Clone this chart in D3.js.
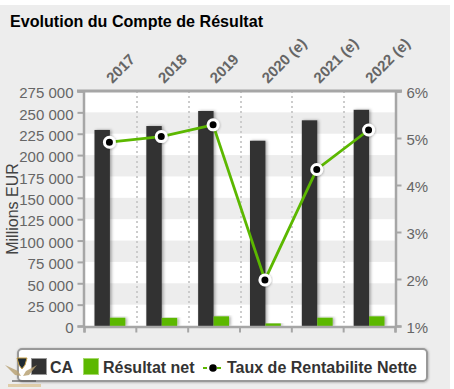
<!DOCTYPE html>
<html>
<head>
<meta charset="utf-8">
<script src="https://cdnjs.cloudflare.com/ajax/libs/d3/7.8.5/d3.min.js"></script>
<style>
  html, body { margin: 0; padding: 0; background: #fff; }
  text { font-family: "Liberation Sans", Arial, sans-serif; }
</style>
</head>
<body>
<div id="chart"></div>
<script>
var categories = ["2017", "2018", "2019", "2020 (e)", "2021 (e)", "2022 (e)"];
var caValues = [229400, 234000, 251600, 216800, 240700, 253000];
var netValues = [9700, 9500, 11300, 3000, 9700, 11300];
var rateValues = [4.91, 5.03, 5.28, 1.98, 4.33, 5.17];
var leftTicks = [0, 25000, 50000, 75000, 100000, 125000, 150000, 175000, 200000, 225000, 250000, 275000];
var rightTicks = [1, 2, 3, 4, 5, 6];

var width = 454, height = 389;
var margin = {top: 91, right: 59, bottom: 63, left: 84};
var axisColor = "#a6a6a6", labelColor = "#666666", green = "#5cb800", dark = "#333333";

var svg = d3.select("#chart").append("svg")
    .attr("width", width)
    .attr("height", height)
    .style("display", "block");

var defs = svg.append("defs");
var shadow = defs.append("filter").attr("id", "shadow")
    .attr("x", "-40%").attr("y", "-10%").attr("width", "190%").attr("height", "120%");
shadow.append("feDropShadow")
    .attr("dx", 1.5).attr("dy", 0).attr("stdDeviation", 1.6)
    .attr("flood-color", "#000").attr("flood-opacity", 0.35);
var softShadow = defs.append("filter").attr("id", "softShadow")
    .attr("x", "-30%").attr("y", "-30%").attr("width", "160%").attr("height", "160%");
softShadow.append("feDropShadow")
    .attr("dx", 0.5).attr("dy", 0.5).attr("stdDeviation", 0.8)
    .attr("flood-color", "#000").attr("flood-opacity", 0.3);

// panel
svg.append("rect").attr("x", 0).attr("y", 5).attr("width", 450).attr("height", 384).attr("fill", "#ededed");

svg.append("text").attr("x", 10).attr("y", 27)
    .attr("font-size", 16.1).attr("font-weight", "bold").attr("fill", "#000")
    .text("Evolution du Compte de Résultat");

var x0 = margin.left, x1 = width - margin.right, y0 = height - margin.bottom, y1 = margin.top;

var xBand = d3.scaleBand().domain(categories).range([x0, x1]);
var xInner = d3.scaleBand().domain(["ca", "net"]).range([0, xBand.bandwidth()]).paddingInner(0).paddingOuter(0.68);
var yLeft = d3.scaleLinear().domain([0, 275000]).range([y0, y1]);
var yRight = d3.scaleLinear().domain([1, 6]).range([y0, y1]);

// plot background and alternate bands
svg.append("rect").attr("x", x0).attr("y", y1).attr("width", x1 - x0).attr("height", y0 - y1).attr("fill", "#fff");
svg.append("g").selectAll("rect")
    .data(leftTicks.slice(0, -1).filter(function (d, i) { return i % 2 === 1; }))
    .enter().append("rect")
    .attr("x", x0)
    .attr("width", x1 - x0)
    .attr("y", function (d) { return yLeft(d + 25000); })
    .attr("height", function (d) { return yLeft(d) - yLeft(d + 25000); })
    .attr("fill", "#ededed");

// dotted separators
svg.append("g").selectAll("line")
    .data(categories.slice(1))
    .enter().append("line")
    .attr("x1", function (d) { return Math.round(xBand(d)) + 1; })
    .attr("x2", function (d) { return Math.round(xBand(d)) + 1; })
    .attr("y1", y1).attr("y2", y0)
    .attr("stroke", "#cccccc").attr("stroke-width", 2).attr("stroke-dasharray", "2 3");

// bars
var bars = svg.append("g");
bars.selectAll("rect.ca")
    .data(caValues)
    .enter().append("rect").attr("class", "ca")
    .attr("x", function (d, i) { return xBand(categories[i]) + xInner("ca"); })
    .attr("width", xInner.bandwidth())
    .attr("y", function (d) { return yLeft(d); })
    .attr("height", function (d) { return y0 - yLeft(d); })
    .attr("fill", dark).attr("filter", "url(#shadow)");
bars.selectAll("rect.net")
    .data(netValues)
    .enter().append("rect").attr("class", "net")
    .attr("x", function (d, i) { return xBand(categories[i]) + xInner("net"); })
    .attr("width", xInner.bandwidth())
    .attr("y", function (d) { return yLeft(d); })
    .attr("height", function (d) { return y0 - yLeft(d); })
    .attr("fill", green).attr("filter", "url(#shadow)");

// axes
var fmt = function (d) { return d3.format(",")(d).replace(/,/g, " "); };

var axisLeft = svg.append("g").attr("transform", "translate(" + (x0 - 0.5) + ",0)")
    .call(d3.axisLeft(yLeft).tickValues(leftTicks).tickFormat(fmt).tickSize(6).tickPadding(4));
var axisRight = svg.append("g").attr("transform", "translate(" + (x1 + 0.5) + ",0)")
    .call(d3.axisRight(yRight).tickValues(rightTicks).tickFormat(function (d) { return d + "%"; }).tickSize(6).tickPadding(5));
var axisBottom = svg.append("g").attr("transform", "translate(0," + (y0 + 0.5) + ")")
    .call(d3.axisBottom(d3.scalePoint().domain(d3.range(7)).range([x0, x1])).tickFormat("").tickSize(6).tickPadding(0));

[axisLeft, axisRight, axisBottom].forEach(function (a) {
    a.selectAll("path").attr("stroke", axisColor).attr("stroke-width", 2.5);
    a.selectAll("line").attr("stroke", axisColor).attr("stroke-width", 2);
    a.selectAll("text").attr("font-size", 15).attr("fill", labelColor).attr("dy", "0.45em")
        .style("font-family", "'Liberation Sans', Arial, sans-serif");
});

// top line
svg.append("line").attr("x1", x0 - 7).attr("x2", x1 + 7).attr("y1", y1).attr("y2", y1)
    .attr("stroke", axisColor).attr("stroke-width", 3);

svg.append("text")
    .attr("transform", "translate(17.5,209) rotate(-90)")
    .attr("text-anchor", "middle")
    .attr("font-size", 16).attr("fill", "#444")
    .text("Millions EUR");

// category labels, rotated above the plot
svg.append("g").selectAll("text")
    .data(categories)
    .enter().append("text")
    .attr("transform", function (d) {
        return "translate(" + (xBand(d) + xBand.bandwidth() / 2 + 2.5) + ",84) rotate(-45)";
    })
    .attr("font-size", 15).attr("font-weight", "bold").attr("fill", labelColor)
    .text(function (d) { return d; });

// rate line
var line = d3.line()
    .x(function (d, i) { return xBand(categories[i]) + xBand.bandwidth() / 2 - 0.5; })
    .y(function (d) { return yRight(d); });
svg.append("path").datum(rateValues)
    .attr("d", line).attr("fill", "none").attr("stroke", green).attr("stroke-width", 2.8);
svg.append("g").selectAll("circle")
    .data(rateValues)
    .enter().append("circle")
    .attr("cx", function (d, i) { return xBand(categories[i]) + xBand.bandwidth() / 2 - 0.5; })
    .attr("cy", function (d) { return yRight(d); })
    .attr("r", 5)
    .attr("fill", "#000").attr("stroke", "#fff").attr("stroke-width", 3)
    .attr("filter", "url(#softShadow)");

// legend
var legend = svg.append("g");
legend.append("rect").attr("x", 18).attr("y", 349).attr("width", 409).attr("height", 32).attr("rx", 4)
    .attr("fill", "#fff").attr("stroke", "#999").attr("stroke-width", 2).attr("filter", "url(#softShadow)");
legend.append("rect").attr("x", 31.5).attr("y", 358.5).attr("width", 15).attr("height", 16)
    .attr("fill", dark).attr("stroke", "#999");
legend.append("text").attr("x", 50).attr("y", 372.5).attr("font-size", 16).attr("font-weight", "bold").attr("fill", "#333").text("CA");
legend.append("rect").attr("x", 83.5).attr("y", 358.5).attr("width", 15).attr("height", 16)
    .attr("fill", green).attr("stroke", "#a5d86a");
legend.append("text").attr("x", 103).attr("y", 372.5).attr("font-size", 16).attr("font-weight", "bold").attr("fill", "#333").text("Résultat net");
legend.append("line").attr("x1", 203).attr("x2", 223).attr("y1", 368).attr("y2", 368)
    .attr("stroke", green).attr("stroke-width", 2).attr("stroke-dasharray", "4 3");
legend.append("circle").attr("cx", 213).attr("cy", 368).attr("r", 3.8).attr("fill", "#000");
legend.append("text").attr("x", 227).attr("y", 372.5).attr("font-size", 16).attr("font-weight", "bold").attr("fill", "#333").text("Taux de Rentabilite Nette");

// small watermark emblem over the corner of the legend
var logo = svg.append("g");
logo.append("path").attr("d", "M17 358 L27 358 L25 365 L22 369 L19 365 Z")
    .attr("fill", "#1e2a33").attr("stroke", "#c9a24a").attr("stroke-width", 1);
logo.append("path").attr("d", "M5 365 L18 371 L21 376 L15 375 Z").attr("fill", "#b9a274").attr("opacity", 0.85);
logo.append("path").attr("d", "M37 365 L26 371 L23 376 L29 375 Z").attr("fill", "#b9a274").attr("opacity", 0.85);
logo.append("rect").attr("x", 12).attr("y", 380).attr("width", 24).attr("height", 2).attr("fill", "#555").attr("opacity", 0.6);
logo.append("rect").attr("x", 8).attr("y", 384).attr("width", 33).attr("height", 3).attr("fill", "#d9bf8c").attr("opacity", 0.7);
</script>
</body>
</html>
